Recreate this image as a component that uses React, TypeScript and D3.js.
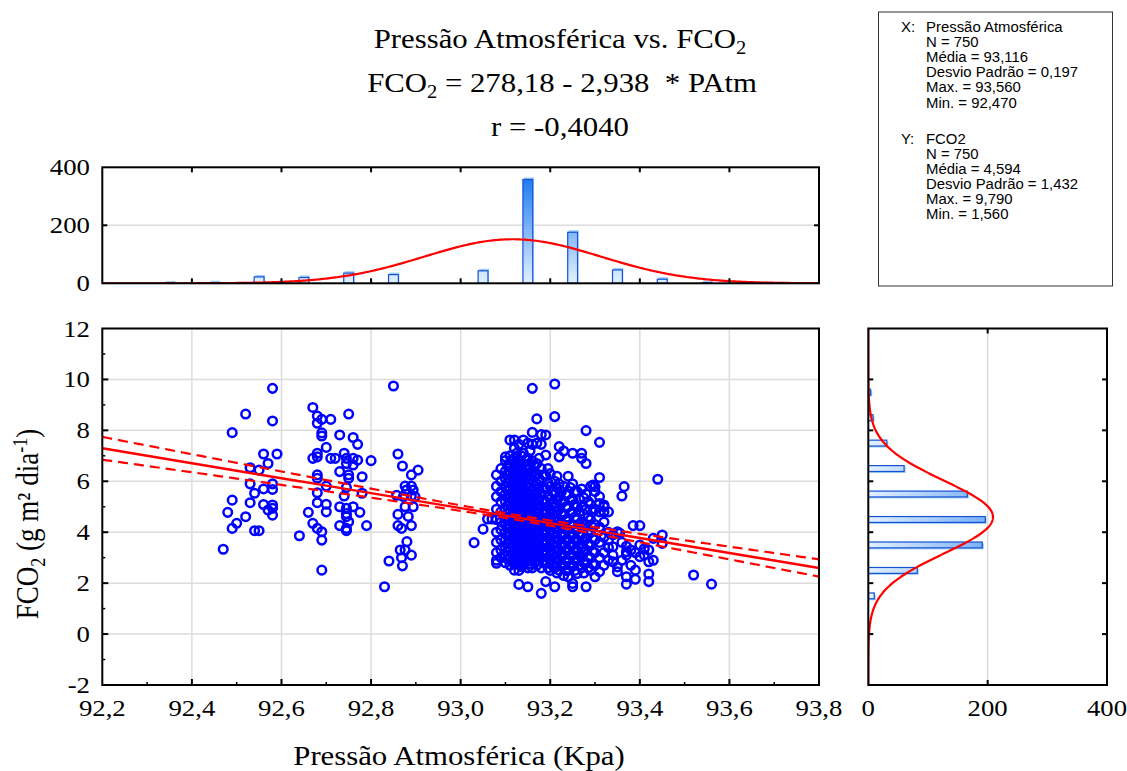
import React from "react";
import * as d3 from "d3";

// ---------- data ----------
const N_OBS = 750;
const X_MEAN = 93.116;
const X_SD = 0.197;
const Y_MEAN = 4.594;
const Y_SD = 1.432;
const R_COEF = -0.404;
const INTERCEPT = 278.18;
const SLOPE = -2.938;

const pressureTicks = [92.2, 92.4, 92.6, 92.8, 93.0, 93.2, 93.4, 93.6, 93.8];
const fluxTicks = [-2, 0, 2, 4, 6, 8, 10, 12];
const topCountTicks = [0, 200, 400];
const rightCountTicks = [0, 200, 400];

const pressureBins = [92.35, 92.45, 92.55, 92.65, 92.75, 92.85, 93.05, 93.15, 93.25, 93.35, 93.45, 93.55];
const pressureCounts = [1, 2, 22, 20, 35, 30, 43, 358, 176, 46, 14, 2];
const fluxBins = [1.5, 2.5, 3.5, 4.5, 5.5, 6.5, 7.5, 8.5, 9.5];
const fluxCounts = [10, 82, 191, 196, 166, 60, 31, 8, 4];

const legendX = ["N = 750", "Média = 93,116", "Desvio Padrão = 0,197", "Max. = 93,560", "Min. = 92,470"];
const legendY = ["N = 750", "Média = 4,594", "Desvio Padrão = 1,432", "Max. = 9,790", "Min. = 1,560"];

const scatterSparse: [number, number][] = [
  [92.47, 3.33], [92.48, 4.78], [92.49, 7.91], [92.49, 5.26], [92.49, 4.15], [92.5, 4.35],
  [92.52, 8.64], [92.52, 4.61], [92.53, 6.53], [92.53, 5.9], [92.53, 5.16], [92.54, 5.53],
  [92.54, 4.06], [92.55, 6.44], [92.55, 4.06], [92.56, 7.07], [92.56, 5.7], [92.56, 5.09],
  [92.57, 6.7], [92.57, 4.87], [92.58, 9.65], [92.58, 8.37], [92.58, 5.9], [92.58, 5.68],
  [92.58, 5.07], [92.58, 4.94], [92.58, 4.67], [92.59, 7.07],
  [92.64, 3.86], [92.66, 4.78], [92.67, 8.9], [92.67, 6.9], [92.67, 4.35], [92.68, 8.56],
  [92.68, 8.28], [92.68, 7.1], [92.68, 6.96], [92.68, 6.25], [92.68, 6.12], [92.68, 5.55],
  [92.68, 5.16], [92.68, 4.15], [92.69, 8.43], [92.69, 7.9], [92.69, 7.78], [92.69, 4.02],
  [92.69, 3.69], [92.69, 2.51], [92.7, 7.33], [92.7, 5.81], [92.7, 5.1], [92.7, 4.8],
  [92.71, 8.43], [92.71, 6.9], [92.72, 6.9], [92.73, 7.82], [92.73, 6.38], [92.73, 5.0],
  [92.73, 4.26], [92.74, 7.1], [92.74, 5.42], [92.745, 6.9], [92.745, 6.7], [92.745, 5.76],
  [92.745, 4.94], [92.745, 4.73], [92.745, 4.61], [92.745, 4.15], [92.745, 4.06], [92.75, 8.64],
  [92.75, 6.25], [92.75, 6.12], [92.75, 4.41], [92.76, 7.72], [92.76, 6.9], [92.76, 6.64],
  [92.76, 5.0], [92.77, 7.45], [92.77, 6.83], [92.775, 4.78], [92.78, 6.18], [92.78, 5.53],
  [92.79, 4.26], [92.8, 6.81],
  [92.83, 1.86], [92.84, 2.87], [92.85, 9.74], [92.86, 7.07], [92.87, 6.6], [92.87, 2.68],
  [92.89, 6.25], [92.905, 6.44], [92.876, 5.81], [92.89, 5.81], [92.879, 5.66], [92.894, 5.66],
  [92.857, 5.45], [92.872, 5.4], [92.89, 5.42], [92.898, 5.4], [92.876, 5.0], [92.894, 5.0],
  [92.86, 4.7], [92.883, 4.62], [92.86, 4.26], [92.868, 4.15], [92.89, 4.26], [92.88, 3.63],
  [92.865, 3.3], [92.876, 3.3], [92.89, 3.1], [92.868, 3.0],
  [93.03, 3.59], [93.05, 4.12], [93.06, 4.52], [93.07, 4.52],
  [93.295, 5.85], [93.3, 5.79], [93.31, 5.13], [93.32, 5.07], [93.32, 4.8], [93.34, 3.43],
  [93.34, 3.1], [93.34, 2.84], [93.35, 4.02], [93.35, 2.45], [93.35, 2.64], [93.355, 3.96],
  [93.36, 5.42], [93.365, 5.79], [93.37, 3.23], [93.37, 3.1], [93.37, 2.25], [93.37, 1.96],
  [93.385, 4.26], [93.39, 2.51], [93.39, 2.15], [93.4, 4.26], [93.4, 3.04], [93.41, 3.1],
  [93.42, 3.3], [93.42, 2.84], [93.42, 2.36], [93.42, 2.06], [93.43, 3.76], [93.43, 2.9],
  [93.44, 6.08], [93.45, 3.89], [93.45, 3.56], [93.52, 2.32], [93.56, 1.96],
  [93.33, 3.7], [93.34, 3.9], [93.36, 3.6], [93.37, 3.45], [93.38, 3.3], [93.39, 3.2],
  [93.36, 2.9], [93.38, 2.7], [93.4, 3.5], [93.41, 3.35],
];

const scatterDense: [number, number[]][] = [
  [93.08, [6.25, 5.8, 5.4, 4.9, 4.5, 4.0, 3.6, 3.2, 2.9, 2.78]],
  [93.09, [6.5, 6.0, 5.6, 5.2, 4.8, 4.4, 4.1, 3.7, 3.3, 3.0]],
  [93.1, [6.96, 6.81, 6.4, 6.1, 5.8, 5.5, 5.2, 4.9, 4.6, 4.3, 4.0, 3.7, 3.4, 3.1, 2.8]],
  [93.11, [7.62, 7.0, 6.6, 6.3, 6.0, 5.7, 5.4, 5.1, 4.8, 4.5, 4.2, 3.9, 3.6, 3.3, 3.0, 2.7]],
  [93.12, [7.62, 7.3, 6.9, 6.5, 6.2, 5.9, 5.6, 5.3, 5.0, 4.7, 4.4, 4.1, 3.8, 3.5, 3.2, 2.9, 2.51]],
  [93.13, [7.45, 6.8, 6.4, 6.1, 5.8, 5.5, 5.2, 4.9, 4.6, 4.3, 4.0, 3.7, 3.4, 3.1, 2.8, 2.5, 1.95]],
  [93.14, [7.62, 7.1, 6.7, 6.3, 6.0, 5.7, 5.4, 5.1, 4.8, 4.5, 4.2, 3.9, 3.6, 3.3, 3.0, 2.7]],
  [93.15, [7.5, 6.9, 6.5, 6.2, 5.9, 5.6, 5.3, 5.0, 4.7, 4.4, 4.1, 3.8, 3.5, 3.2, 2.9, 2.6, 1.86]],
  [93.16, [9.65, 7.92, 7.45, 6.8, 6.4, 6.0, 5.6, 5.3, 5.0, 4.7, 4.4, 4.1, 3.8, 3.5, 3.2, 2.9, 2.6]],
  [93.17, [8.45, 7.5, 6.7, 6.3, 5.9, 5.5, 5.1, 4.7, 4.3, 3.9, 3.5, 3.1, 2.7]],
  [93.18, [7.84, 7.45, 6.5, 6.0, 5.5, 5.0, 4.6, 4.2, 3.8, 3.4, 3.0, 2.6, 1.6]],
  [93.19, [7.82, 7.03, 6.2, 5.7, 5.2, 4.8, 4.4, 4.0, 3.6, 3.2, 2.8, 2.06]],
  [93.2, [6.3, 5.8, 5.3, 4.9, 4.5, 4.1, 3.7, 3.3, 2.9, 2.5]],
  [93.21, [9.82, 8.54, 6.0, 5.5, 5.0, 4.6, 4.2, 3.8, 3.4, 3.0, 2.6, 1.86]],
  [93.22, [7.36, 6.96, 5.9, 5.4, 4.9, 4.5, 4.1, 3.7, 3.3, 2.9, 2.5]],
  [93.23, [7.19, 5.8, 5.2, 4.7, 4.3, 3.9, 3.5, 3.1, 2.7, 2.3]],
  [93.24, [6.2, 5.5, 5.0, 4.5, 4.1, 3.7, 3.3, 2.9, 2.5, 2.25]],
  [93.25, [7.1, 5.9, 5.3, 4.8, 4.3, 3.9, 3.5, 3.1, 2.7, 1.99, 1.86]],
  [93.26, [5.6, 5.0, 4.5, 4.1, 3.7, 3.3, 2.9, 2.38]],
  [93.27, [7.1, 6.9, 5.7, 5.0, 4.4, 3.9, 3.4, 3.0, 2.6]],
  [93.28, [7.99, 6.7, 5.5, 4.9, 4.3, 3.8, 3.3, 2.8, 1.86]],
  [93.29, [5.8, 5.1, 4.5, 4.0, 3.5, 3.0, 2.5]],
  [93.3, [5.6, 4.9, 4.3, 3.7, 3.2, 2.7, 2.25]],
  [93.31, [7.53, 6.15, 5.4, 4.8, 4.2, 3.6, 3.0, 2.45]],
  [93.32, [5.0, 4.4, 3.8, 3.2, 2.7]],
  [93.33, [4.8, 4.0, 3.4, 2.9]],
  [93.105, [6.6, 6.25, 5.95, 5.65, 5.35, 5.05, 4.75, 4.45, 4.15, 3.85, 3.55, 3.25, 2.95]],
  [93.115, [6.8, 6.45, 6.15, 5.85, 5.55, 5.25, 4.95, 4.65, 4.35, 4.05, 3.75, 3.45, 3.15, 2.85]],
  [93.125, [7.1, 6.7, 6.35, 6.05, 5.75, 5.45, 5.15, 4.85, 4.55, 4.25, 3.95, 3.65, 3.35, 3.05, 2.75]],
  [93.135, [7.0, 6.6, 6.25, 5.95, 5.65, 5.35, 5.05, 4.75, 4.45, 4.15, 3.85, 3.55, 3.25, 2.95, 2.65]],
  [93.145, [6.85, 6.5, 6.15, 5.85, 5.55, 5.25, 4.95, 4.65, 4.35, 4.05, 3.75, 3.45, 3.15, 2.85]],
  [93.155, [7.2, 6.6, 6.05, 5.75, 5.45, 5.15, 4.85, 4.55, 4.25, 3.95, 3.65, 3.35, 3.05, 2.75]],
  [93.165, [6.6, 6.2, 5.8, 5.45, 5.15, 4.85, 4.55, 4.25, 3.95, 3.65, 3.35, 3.05, 2.8]],
  [93.175, [6.9, 6.1, 5.7, 5.3, 4.9, 4.5, 4.1, 3.7, 3.3, 2.9]],
  [93.185, [6.25, 5.75, 5.25, 4.8, 4.4, 4.0, 3.6, 3.2, 2.8]],
  [93.195, [6.5, 5.95, 5.45, 5.0, 4.6, 4.2, 3.8, 3.4, 3.0, 2.6]],
  [93.205, [5.6, 5.1, 4.7, 4.3, 3.9, 3.5, 3.1, 2.7]],
  [93.215, [6.2, 5.75, 5.25, 4.8, 4.4, 4.0, 3.6, 3.2, 2.8, 2.4]],
  [93.225, [5.6, 5.15, 4.7, 4.3, 3.9, 3.5, 3.1, 2.7]],
  [93.235, [5.5, 5.0, 4.5, 4.1, 3.7, 3.3, 2.9, 2.5]],
  [93.245, [5.75, 5.25, 4.75, 4.3, 3.9, 3.5, 3.1, 2.7]],
  [93.255, [5.6, 5.1, 4.6, 4.1, 3.7, 3.3, 2.9, 2.5]],
  [93.265, [5.3, 4.8, 4.3, 3.9, 3.5, 3.1, 2.7]],
  [93.275, [5.35, 4.7, 4.15, 3.65, 3.2, 2.8, 2.4]],
  [93.285, [5.2, 4.6, 4.05, 3.55, 3.05, 2.6]],
  [93.295, [4.8, 4.2, 3.75, 3.25, 2.75]],
];

// ---------- helpers ----------
const SERIF = "'Liberation Serif', 'Times New Roman', serif";
const SANS = "'Liberation Sans', Arial, sans-serif";
const SX = 1.14;
const fmtComma = (v: number, d: number) => v.toFixed(d).replace(".", ",");
const pdf = (v: number, m: number, s: number) =>
  Math.exp(-0.5 * ((v - m) / s) ** 2) / (s * Math.sqrt(2 * Math.PI));

function SText(props: {
  x: number; y: number; size: number; anchor?: string; family?: string; rotate?: number; sx?: number;
  children: React.ReactNode;
}) {
  const { x, y, size, anchor = "middle", family = SERIF, rotate, sx = SX, children } = props;
  const tr = rotate
    ? `translate(${x},${y}) rotate(${rotate}) scale(1,${sx})`
    : `translate(${x},${y}) scale(${sx},1)`;
  return (
    <g transform={tr}>
      <text
        x={0}
        y={0}
        textAnchor={anchor as any}
        fontSize={size}
        fontFamily={family}
        fill="#000"
        style={{ whiteSpace: "pre" }}
      >
        {children}
      </text>
    </g>
  );
}

export default function App() {
  const x = d3.scaleLinear().domain([92.2, 93.8]).range([102.3, 819]);
  const y = d3.scaleLinear().domain([-2, 12]).range([685, 328.5]);
  const yTop = d3.scaleLinear().domain([0, 400]).range([283.3, 167.3]);
  const xRight = d3.scaleLinear().domain([0, 400]).range([868.3, 1107]);

  const points: [number, number][] = [
    ...scatterSparse,
    ...scatterDense.flatMap(([px, ys]) => ys.map((v) => [px, v] as [number, number])),
  ];

  // regression + 95% band
  const seResid = Y_SD * Math.sqrt(1 - R_COEF * R_COEF) * Math.sqrt((N_OBS - 1) / (N_OBS - 2));
  const sxx = (N_OBS - 1) * X_SD * X_SD;
  const tCrit = 1.963;
  const xs = d3.range(92.2, 93.8001, 0.01);
  const fit = (p: number) => INTERCEPT + SLOPE * p;
  const half = (p: number) => tCrit * seResid * Math.sqrt(1 / N_OBS + ((p - X_MEAN) ** 2) / sxx);
  const fitPath = d3.line<number>().x((p) => x(p)).y((p) => y(fit(p)))(xs) || "";
  const upPath = d3.line<number>().x((p) => x(p)).y((p) => y(fit(p) + half(p)))(xs) || "";
  const loPath = d3.line<number>().x((p) => x(p)).y((p) => y(fit(p) - half(p)))(xs) || "";

  // normal curves
  const topCurve =
    d3.line<number>().x((p) => x(p)).y((p) => yTop(N_OBS * 0.1 * pdf(p, X_MEAN, X_SD)))(
      d3.range(92.2, 93.8001, 0.004)
    ) || "";
  const rightCurve =
    d3.line<number>().x((v) => xRight(N_OBS * 1 * pdf(v, Y_MEAN, Y_SD))).y((v) => y(v))(
      d3.range(-2, 12.0001, 0.02)
    ) || "";

  const barHalfX = (x(92.2 + 0.1) - x(92.2)) * 0.11;
  const barHalfY = (y(0) - y(1)) * 0.115;

  const majorX = pressureTicks;
  const minorX = d3.range(92.3, 93.8, 0.2);
  const minorY = d3.range(-1, 12, 2);

  const gridColor = "#dcdcdc";
  const frame = { stroke: "#000", strokeWidth: 2, fill: "none" };

  const legendStart = 32;
  const legendStep = 15.1;
  const LS = 13.8;

  return (
    <svg
      width={1127}
      height={771}
      viewBox="0 0 1127 771"
      style={{ position: "absolute", left: 0, top: 0, background: "#fff" }}
    >
      <defs>
        <linearGradient id="gTop" gradientUnits="userSpaceOnUse" x1={0} y1={yTop(400)} x2={0} y2={yTop(0)}>
          <stop offset="0" stopColor="#0a6ef0" />
          <stop offset="1" stopColor="#e4f1ff" />
        </linearGradient>
        <linearGradient id="gRight" gradientUnits="userSpaceOnUse" x1={xRight(0)} y1={0} x2={xRight(400)} y2={0}>
          <stop offset="0" stopColor="#e4f1ff" />
          <stop offset="1" stopColor="#0a6ef0" />
        </linearGradient>
        <clipPath id="clipMain">
          <rect x={x(92.2)} y={y(12)} width={x(93.8) - x(92.2)} height={y(-2) - y(12)} />
        </clipPath>
        <clipPath id="clipTop">
          <rect x={x(92.2)} y={yTop(400)} width={x(93.8) - x(92.2)} height={yTop(0) - yTop(400)} />
        </clipPath>
        <clipPath id="clipRight">
          <rect x={xRight(0)} y={y(12)} width={xRight(400) - xRight(0)} height={y(-2) - y(12)} />
        </clipPath>
      </defs>
      <rect x={0} y={0} width={1127} height={771} fill="#fff" />

      {/* ---------- titles ---------- */}
      <SText x={560} y={48} size={27}>
        <tspan>Pressão Atmosférica vs. FCO</tspan>
        <tspan fontSize={18} dy={6}>2</tspan>
      </SText>
      <SText x={562} y={92} size={27}>
        <tspan>FCO</tspan>
        <tspan fontSize={18} dy={6}>2</tspan>
        <tspan dy={-6}>{" = 278,18 - 2,938  * PAtm"}</tspan>
      </SText>
      <SText x={560} y={136} size={27}>r = -0,4040</SText>

      {/* ---------- legend box ---------- */}
      <rect x={878.5} y={12} width={234} height={274} fill="#fff" stroke="#333" strokeWidth={1} />
      <SText x={901} y={legendStart} size={LS} anchor="start" family={SANS} sx={1.08}>X:</SText>
      <SText x={926} y={legendStart} size={LS} anchor="start" family={SANS} sx={1.08}>Pressão Atmosférica</SText>
      {legendX.map((t, i) => (
        <SText key={"lx" + i} x={926} y={legendStart + legendStep * (i + 1)} size={LS} anchor="start" family={SANS} sx={1.08}>
          {t}
        </SText>
      ))}
      <SText x={901} y={legendStart + legendStep * 7.4} size={LS} anchor="start" family={SANS} sx={1.08}>Y:</SText>
      <SText x={926} y={legendStart + legendStep * 7.4} size={LS} anchor="start" family={SANS} sx={1.08}>FCO2</SText>
      {legendY.map((t, i) => (
        <SText key={"ly" + i} x={926} y={legendStart + legendStep * (i + 8.4)} size={LS} anchor="start" family={SANS} sx={1.08}>
          {t}
        </SText>
      ))}

      {/* ---------- top histogram ---------- */}
      <line x1={x(92.2)} x2={x(93.8)} y1={yTop(200)} y2={yTop(200)} stroke={gridColor} strokeWidth={1.5} />
      <g clipPath="url(#clipTop)">
        {pressureBins.map((b, i) => (
          <g key={"tb" + i}>
            <rect
              x={x(b) - barHalfX + 1}
              y={yTop(pressureCounts[i]) - 2}
              width={barHalfX * 2}
              height={yTop(0) - yTop(pressureCounts[i]) + 2}
              fill="#9ccbf8"
            />
            <rect
              x={x(b) - barHalfX}
              y={yTop(pressureCounts[i])}
              width={barHalfX * 2}
              height={yTop(0) - yTop(pressureCounts[i])}
              fill="url(#gTop)"
              stroke="#1452d2"
              strokeWidth={1.2}
            />
          </g>
        ))}
        <path d={topCurve} fill="none" stroke="#ff0000" strokeWidth={2.2} />
      </g>
      <rect x={x(92.2)} y={yTop(400)} width={x(93.8) - x(92.2)} height={yTop(0) - yTop(400)} {...frame} />
      {majorX.slice(1, -1).map((t) => (
        <g key={"tt" + t}>
          <line x1={x(t)} x2={x(t)} y1={yTop(400)} y2={yTop(400) + 5} stroke="#000" strokeWidth={2} />
          <line x1={x(t)} x2={x(t)} y1={yTop(0)} y2={yTop(0) - 5} stroke="#000" strokeWidth={2} />
        </g>
      ))}
      <line x1={x(92.2)} x2={x(92.2) + 5} y1={yTop(200)} y2={yTop(200)} stroke="#000" strokeWidth={2} />
      <line x1={x(93.8)} x2={x(93.8) - 5} y1={yTop(200)} y2={yTop(200)} stroke="#000" strokeWidth={2} />
      {topCountTicks.map((t) => (
        <SText key={"tl" + t} x={90} y={yTop(t) + 8} size={23.5} anchor="end">
          {String(t)}
        </SText>
      ))}

      {/* ---------- main scatter ---------- */}
      {fluxTicks.slice(1, -1).map((t) => (
        <line key={"gy" + t} x1={x(92.2)} x2={x(93.8)} y1={y(t)} y2={y(t)} stroke={gridColor} strokeWidth={1.5} />
      ))}
      {majorX.slice(1, -1).map((t) => (
        <line key={"gx" + t} x1={x(t)} x2={x(t)} y1={y(12)} y2={y(-2)} stroke={gridColor} strokeWidth={1.5} />
      ))}
      <g clipPath="url(#clipMain)">
        {points.map(([px, py], i) => (
          <circle key={"p" + i} cx={x(px)} cy={y(py)} r={4.3} fill="none" stroke="#0000ff" strokeWidth={2.5} />
        ))}
        <path d={upPath} fill="none" stroke="#ff0000" strokeWidth={2.2} strokeDasharray="10,6" />
        <path d={loPath} fill="none" stroke="#ff0000" strokeWidth={2.2} strokeDasharray="10,6" />
        <path d={fitPath} fill="none" stroke="#ff0000" strokeWidth={2.4} />
      </g>
      <rect x={x(92.2)} y={y(12)} width={x(93.8) - x(92.2)} height={y(-2) - y(12)} {...frame} />
      {majorX.slice(1, -1).map((t) => (
        <line key={"mx" + t} x1={x(t)} x2={x(t)} y1={y(-2)} y2={y(-2) - 6} stroke="#000" strokeWidth={2} />
      ))}
      {minorX.map((t) => (
        <line key={"nx" + t} x1={x(t)} x2={x(t)} y1={y(-2)} y2={y(-2) - 3} stroke="#000" strokeWidth={1.5} />
      ))}
      {fluxTicks.slice(1, -1).map((t) => (
        <line key={"my" + t} x1={x(92.2)} x2={x(92.2) + 6} y1={y(t)} y2={y(t)} stroke="#000" strokeWidth={2} />
      ))}
      {minorY.map((t) => (
        <line key={"ny" + t} x1={x(92.2)} x2={x(92.2) + 3} y1={y(t)} y2={y(t)} stroke="#000" strokeWidth={1.5} />
      ))}
      {pressureTicks.map((t) => (
        <SText key={"xl" + t} x={x(t)} y={716} size={23.5}>
          {fmtComma(t, 1)}
        </SText>
      ))}
      {fluxTicks.map((t) => (
        <SText key={"yl" + t} x={90} y={y(t) + 8} size={23.5} anchor="end">
          {String(t)}
        </SText>
      ))}
      <SText x={459} y={765} size={27}>Pressão Atmosférica (Kpa)</SText>
      <SText x={38} y={524} size={27} rotate={-90}>
        <tspan>FCO</tspan>
        <tspan fontSize={18} dy={6}>2</tspan>
        <tspan dy={-6}>{" (g m² dia"}</tspan>
        <tspan fontSize={18} dy={-10}>-1</tspan>
        <tspan dy={10}>)</tspan>
      </SText>

      {/* ---------- right histogram ---------- */}
      <line x1={xRight(200)} x2={xRight(200)} y1={y(12)} y2={y(-2)} stroke={gridColor} strokeWidth={1.5} />
      <g clipPath="url(#clipRight)">
        {fluxBins.map((b, i) => (
          <g key={"rb" + i}>
            <rect
              x={xRight(0)}
              y={y(b) - barHalfY + 1.5}
              width={xRight(fluxCounts[i]) - xRight(0) + 1.5}
              height={barHalfY * 2}
              fill="#9ccbf8"
            />
            <rect
              x={xRight(0)}
              y={y(b) - barHalfY}
              width={xRight(fluxCounts[i]) - xRight(0)}
              height={barHalfY * 2}
              fill="url(#gRight)"
              stroke="#1452d2"
              strokeWidth={1.2}
            />
          </g>
        ))}
        <path d={rightCurve} fill="none" stroke="#ff0000" strokeWidth={2.2} />
      </g>
      <rect x={xRight(0)} y={y(12)} width={xRight(400) - xRight(0)} height={y(-2) - y(12)} {...frame} />
      <line x1={xRight(200)} x2={xRight(200)} y1={y(12)} y2={y(12) + 5} stroke="#000" strokeWidth={2} />
      <line x1={xRight(200)} x2={xRight(200)} y1={y(-2)} y2={y(-2) - 5} stroke="#000" strokeWidth={2} />
      {fluxTicks.slice(1, -1).map((t) => (
        <g key={"ry" + t}>
          <line x1={xRight(0)} x2={xRight(0) + 5} y1={y(t)} y2={y(t)} stroke="#000" strokeWidth={2} />
          <line x1={xRight(400)} x2={xRight(400) - 5} y1={y(t)} y2={y(t)} stroke="#000" strokeWidth={2} />
        </g>
      ))}
      {rightCountTicks.map((t) => (
        <SText key={"rl" + t} x={xRight(t)} y={716} size={23.5}>
          {String(t)}
        </SText>
      ))}
    </svg>
  );
}
